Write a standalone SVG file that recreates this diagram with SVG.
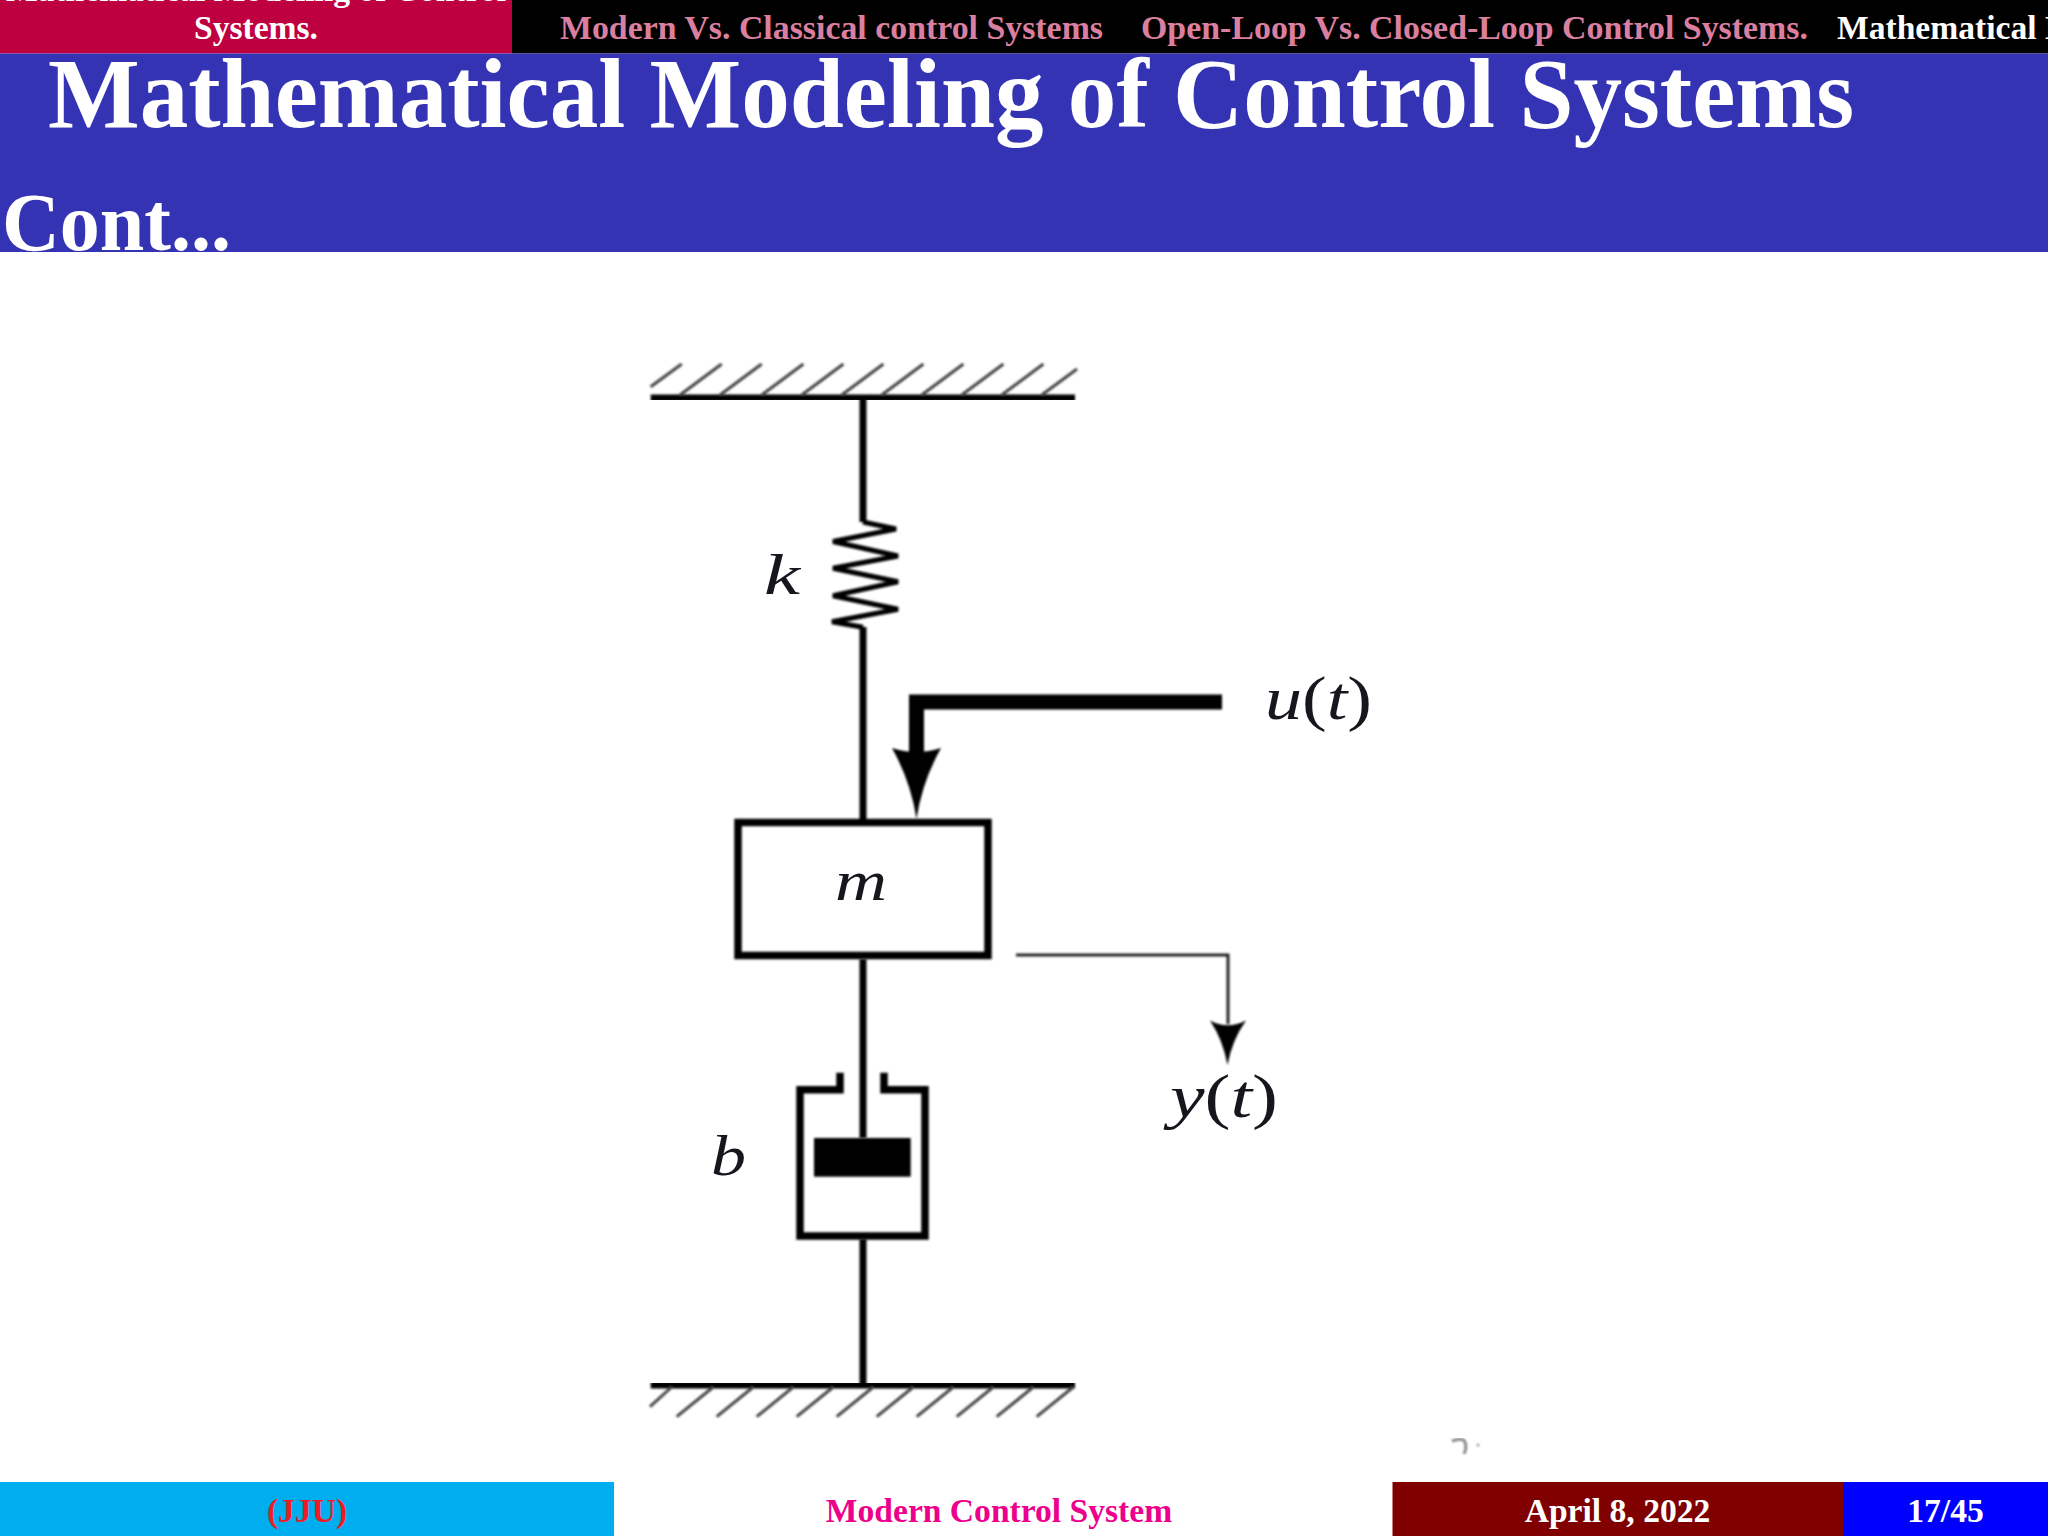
<svg xmlns="http://www.w3.org/2000/svg" width="2048" height="1536" viewBox="0 0 2048 1536">
  <style>
    text { font-family: "Liberation Serif", "Times New Roman", serif; }
    .b { font-weight: bold; }
    .nav { font-weight: bold; font-size: 33.6px; }
    .foot { font-weight: bold; font-size: 33.6px; text-anchor: middle; }
    .pink { fill: #da7f9f; }
    .white { fill: #ffffff; }
    .var { font-style: italic; font-size: 56px; fill: #14141c; }
    .big { font-size: 62px; }
    .up { font-style: normal; }
    .line { fill: none; stroke: #000; stroke-width: 7; stroke-linecap: butt; stroke-linejoin: miter; }
    .spring { fill: none; stroke: #000; stroke-width: 5; stroke-linejoin: miter; }
    .hatch { fill: none; stroke: #444; stroke-width: 3; }
    .soft { filter: url(#soft); }
    .softer { filter: url(#softer); }
  </style>
  <defs>
    <filter id="soft" x="-5%" y="-5%" width="110%" height="110%"><feGaussianBlur stdDeviation="0.8"/></filter>
    <filter id="softer" x="-10%" y="-10%" width="120%" height="120%"><feGaussianBlur stdDeviation="0.5"/></filter>
  </defs>
  <rect width="2048" height="1536" fill="#ffffff"/>

  <g id="nav-bar">
    <rect x="0" y="0" width="512" height="53.500" fill="#bf0040"/>
    <rect x="512" y="0" width="1536" height="53.500" fill="#000000"/>
    <text class="nav white" x="256" y="0.500" text-anchor="middle">Mathematical Modeling of Control</text>
    <text class="nav white" x="256" y="39" text-anchor="middle">Systems.</text>
    <text class="nav pink" x="560" y="39" textLength="543" lengthAdjust="spacingAndGlyphs">Modern Vs. Classical control Systems</text>
    <text class="nav pink" x="1141" y="39" textLength="667" lengthAdjust="spacingAndGlyphs">Open-Loop Vs. Closed-Loop Control Systems.</text>
    <text class="nav white" x="1837" y="39">Mathematical Modeling of Control Systems.</text>
  </g>

  <g id="title-bar">
    <rect x="0" y="53.500" width="2048" height="198.500" fill="#3333b3"/>
    <text class="b white" x="48" y="126.500" font-size="99" textLength="1806" lengthAdjust="spacingAndGlyphs">Mathematical Modeling of Control Systems</text>
    <text class="b white" x="2" y="250" font-size="83" textLength="229" lengthAdjust="spacingAndGlyphs">Cont...</text>
  </g>

  <g id="connectors" class="soft">
    <path class="line" d="M863 398V522"/>
    <path class="spring" d="M863 522L896 529L833 541.500L898 556L833 568.300L898 581.700L833 595.700L898 609.300L832 621.700L863 627.300"/>
    <path class="line" d="M863 627V822"/>
    <path class="line" d="M863 959V1138"/>
    <path class="line" d="M863 1239V1385"/>
    <path d="M1222 702H916.500V752" fill="none" stroke="#000" stroke-width="15"/>
    <path d="M892 748Q916.500 756 941 748Q922 782 916.500 819Q911 782 892 748Z" fill="#000"/>
    <path d="M1016 955H1228V1024" fill="none" stroke="#222" stroke-width="3"/>
    <path d="M1210 1020.500Q1227.500 1030 1246 1020.500Q1232 1040 1227.500 1065Q1223 1040 1210 1020.500Z" fill="#000"/>
  </g>

  <g id="top-wall" class="soft">
    <path class="line" d="M650.700 398H1075"/>
    <path class="hatch" d="M650.700 386.700L681.700 364M680 395L721.700 364M720 395L761.700 364M761.700 395L803.400 364M801.700 395L843.400 364M841.700 395L883.400 364M881.700 395L923.400 364M921.700 395L963.400 364M961.700 395L1003.400 364M1001.700 395L1043.400 364M1041.700 395L1077 369"/>
  </g>

  <g id="spring-k">
    <text class="var softer" x="764" y="594" textLength="36" lengthAdjust="spacingAndGlyphs">k</text>
  </g>

  <g id="mass-m">
    <rect class="line soft" x="738" y="822.500" width="250" height="133" style="stroke-width:7.500"/>
    <text class="var softer" x="835" y="900" textLength="52" lengthAdjust="spacingAndGlyphs">m</text>
  </g>

  <g id="input-u">
    <text class="var big softer" x="1265" y="719" textLength="107" lengthAdjust="spacingAndGlyphs">u<tspan class="up">(</tspan>t<tspan class="up">)</tspan></text>
  </g>

  <g id="output-y">
    <text class="var big softer" x="1170" y="1117" textLength="108" lengthAdjust="spacingAndGlyphs">y<tspan class="up">(</tspan>t<tspan class="up">)</tspan></text>
  </g>

  <g id="damper-b" class="soft">
    <path class="line" d="M840 1072.700V1089.700H800V1236H925V1089.700H884V1072.700" style="stroke-width:7.500"/>
    <rect x="814" y="1138" width="96.700" height="38.700" fill="#000"/>
  </g>
  <g id="damper-label">
    <text class="var softer" x="711" y="1175" textLength="35" lengthAdjust="spacingAndGlyphs">b</text>
  </g>

  <g id="bottom-wall" class="soft">
    <path class="line" d="M650.700 1385H1075"/>
    <path class="hatch" d="M671.700 1387L650 1406.700M713.300 1387L676.700 1416.700M753.300 1387L716.700 1416.700M793.300 1387L756.700 1416.700M833.300 1387L796.700 1416.700M873.300 1387L836.700 1416.700M913.300 1387L876.700 1416.700M953.300 1387L916.700 1416.700M993.300 1387L956.700 1416.700M1033.300 1387L996.700 1416.700M1073.300 1387L1036.700 1416.700"/>
  </g>

  <g id="smudge" class="soft">
    <path d="M1452 1441Q1463 1437 1465 1442Q1467 1448 1464 1454" fill="none" stroke="#8a8a8a" stroke-width="3"/>
    <circle cx="1478" cy="1445" r="1.500" fill="#999"/>
  </g>

  <g id="footer">
    <rect x="0" y="1482" width="614" height="54" fill="#00aeef"/>
    <rect x="614" y="1482" width="778.500" height="54" fill="#ffffff"/>
    <rect x="1392.500" y="1482" width="450.500" height="54" fill="#800000"/>
    <rect x="1843" y="1482" width="205" height="54" fill="#0000ff"/>
    <text class="foot" x="307" y="1522" fill="#ed1c24">(JJU)</text>
    <text class="foot" x="999" y="1522" fill="#ec008c">Modern Control System</text>
    <text class="foot white" x="1617.500" y="1522">April 8, 2022</text>
    <text class="foot white" x="1945.500" y="1522">17/45</text>
  </g>
</svg>
